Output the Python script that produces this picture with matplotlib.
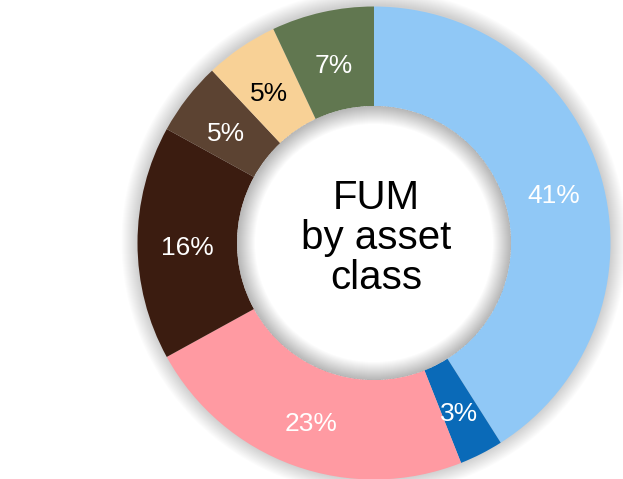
import numpy as np
import matplotlib.pyplot as plt
from matplotlib.patches import Wedge, Circle

plt.rcParams['font.family'] = ['Liberation Sans', 'DejaVu Sans']

shares = [41, 3, 23, 16, 5, 5, 7]
labels = ['41%', '3%', '23%', '16%', '5%', '5%', '7%']
colors = ['#90c8f6', '#0a6ab8', '#ff9aa2', '#3b1c10', '#5c4332', '#f8d196', '#617750']
text_colors = ['white', 'white', 'white', 'white', 'white', 'black', 'white']
title = "FUM\nby asset\nclass"

W, H = 623, 479
cx, cy = 374, 236
r_out = 236.5
r_in = 137

fig = plt.figure(figsize=(W / 100, H / 100), dpi=100)
ax = fig.add_axes([0, 0, 1, 1])

wedges, _ = ax.pie(shares, colors=colors, startangle=90, counterclock=False,
                   radius=r_out, center=(cx, cy),
                   wedgeprops=dict(width=r_out - r_in, linewidth=0))
for w in wedges:
    w.set_zorder(1)

ax.set_xlim(0, W)
ax.set_ylim(0, H)
ax.set_aspect('equal')
ax.axis('off')

# soft outer shadow
for k in range(16):
    ax.add_patch(Circle((cx, cy + 1), r_out + 16 - k, color='black', alpha=0.012, lw=0, zorder=0))

ax.add_patch(Circle((cx, cy), r_in, color='white', lw=0, zorder=2))
# inner shadow on the hole
for k in range(18):
    ax.add_patch(Wedge((cx, cy), r_in, 0, 360, width=18 - k, color='black', alpha=0.014, lw=0, zorder=3))

r_mid = (r_out + r_in) / 2
ang = 90.0
for s, lab, tc in zip(shares, labels, text_colors):
    a = np.deg2rad(ang - s * 3.6 / 2)
    ax.text(cx + r_mid * np.cos(a), cy + r_mid * np.sin(a) - 5, lab, color=tc,
            fontsize=19, ha='center', va='center', zorder=5)
    ang -= s * 3.6

ax.text(cx + 2, cy + 5, title, fontsize=29, ha='center', va='center',
        linespacing=1.08, zorder=5)

fig.savefig('out.png', dpi=100)
